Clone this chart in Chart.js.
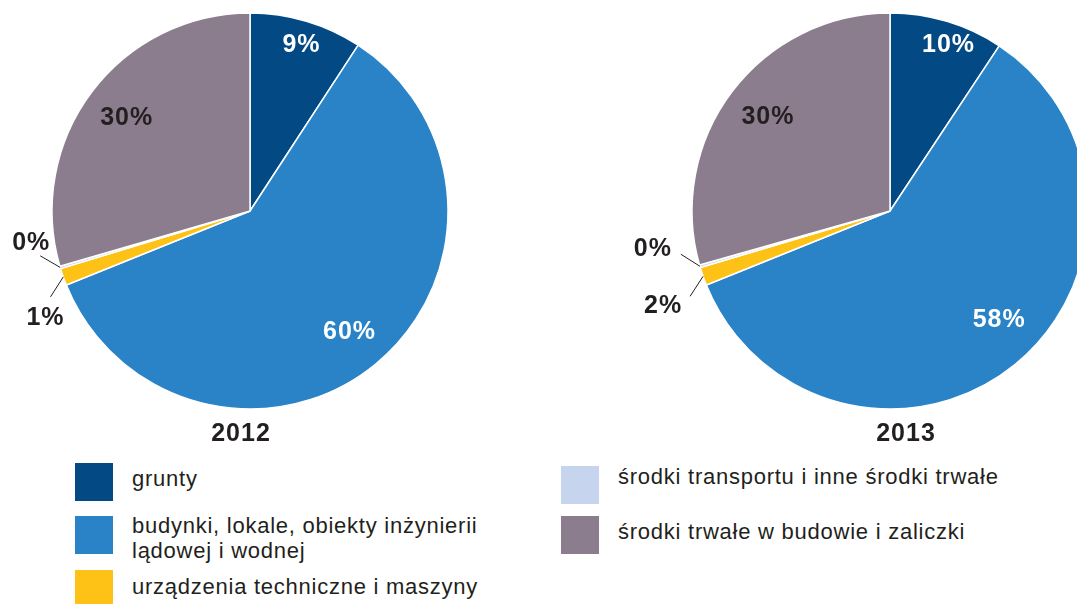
<!DOCTYPE html>
<html><head><meta charset="utf-8">
<script src="https://cdn.jsdelivr.net/npm/chart.js@4.4.1/dist/chart.umd.min.js"></script>
<style>
html,body{margin:0;padding:0;background:#fff;overflow:hidden;width:1077px;height:604px;position:relative;font-family:"Liberation Sans",Arial,sans-serif;color:#231f20}
.cv{position:absolute;top:-9px;height:440px}
.yr{position:absolute;top:417px;font-weight:bold;font-size:25px;line-height:30px;width:120px;text-align:center;letter-spacing:1px}
.sq{position:absolute;width:38px;height:38px}
.lt{position:absolute;font-size:22px;line-height:24px;white-space:nowrap;letter-spacing:0.75px}
</style></head><body>
<div class="cv" style="left:0px;width:500px"><canvas id="c1" width="500" height="440"></canvas></div>
<div class="cv" style="left:600px;width:580px"><canvas id="c2" width="580" height="440"></canvas></div>
<div class="yr" style="left:181px">2012</div>
<div class="yr" style="left:846px">2013</div>
<div id="legend"></div>
<script>
const categories = ['grunty','budynki, lokale, obiekty inżynierii lądowej i wodnej','urządzenia techniczne i maszyny','środki transportu i inne środki trwałe','środki trwałe w budowie i zaliczki'];
const values2012 = [9.2, 59.7, 1.4, 0.2, 29.5];
const values2013 = [9.3, 59.6, 1.5, 0.2, 29.4];
const labels2012 = ['9%','60%','1%','0%','30%'];
const labels2013 = ['10%','58%','2%','0%','30%'];
const years = ['2012','2013'];
const colors = ['#034a84','#2a83c6','#fdc215','#c6d4ee','#8b7d8e'];

const labelPlugin = {
  id:'sliceLabels',
  afterDatasetsDraw(chart, args, opts){
    const ctx = chart.ctx;
    const meta = chart.getDatasetMeta(0);
    const texts = opts.texts;
    ctx.save();
    ctx.font = 'bold 25px "Liberation Sans", Arial, sans-serif';
    try{ ctx.letterSpacing='1px'; }catch(e){}
    ctx.textAlign='center'; ctx.textBaseline='middle';
    meta.data.forEach((arc,i)=>{
      const p = arc.getProps(['x','y','startAngle','endAngle','outerRadius'],true);
      const mid = (p.startAngle+p.endAngle)/2;
      const cfg = opts.place[i];
      if(cfg.inside){
        const r = p.outerRadius*cfg.f;
        const x = p.x+Math.cos(mid)*r+cfg.nx, y = p.y+Math.sin(mid)*r+cfg.ny;
        ctx.fillStyle = (i===4) ? '#231f20' : '#ffffff';
        ctx.fillText(texts[i],x,y);
      } else {
        const ax = p.x+Math.cos(mid)*p.outerRadius, ay = p.y+Math.sin(mid)*p.outerRadius;
        ctx.strokeStyle='#231f20'; ctx.lineWidth=1;
        ctx.beginPath(); ctx.moveTo(ax,ay); ctx.lineTo(ax+cfg.lx,ay+cfg.ly); ctx.stroke();
        ctx.fillStyle='#231f20';
        ctx.fillText(texts[i],ax+cfg.tx,ay+cfg.ty);
      }
    });
    ctx.restore();
  }
};

function makePie(id, vals, texts, place){
  new Chart(document.getElementById(id),{
    type:'pie',
    data:{labels:categories,datasets:[{data:vals,backgroundColor:colors,borderColor:'#ffffff',borderWidth:1.5,borderAlign:'center'}]},
    options:{responsive:false,animation:false,radius:198,
      layout:{padding:0},
      plugins:{legend:{display:false},tooltip:{enabled:false},sliceLabels:{texts,place}}},
    plugins:[labelPlugin]
  });
}
makePie('c1', values2012, labels2012, [
  {inside:true,f:0.877,nx:2,ny:1},
  {inside:true,f:0.792,nx:0,ny:0},
  {inside:false,lx:-12.8,ly:20,tx:-17.8,ty:41},
  {inside:false,lx:-20,ly:-11.6,tx:-29,ty:-24.6},
  {inside:true,f:0.779,nx:0,ny:0}
]);
makePie('c2', values2013, labels2013, [
  {inside:true,f:0.877,nx:8.5,ny:0},
  {inside:true,f:0.792,nx:10,ny:-12},
  {inside:false,lx:-13,ly:20,tx:-40,ty:30},
  {inside:false,lx:-19,ly:-12,tx:-47,ty:-17},
  {inside:true,f:0.779,nx:1,ny:-1}
]);

// legend
const legendPos = [
  {sx:75,sy:463,tx:132,ty:467,text:categories[0]},
  {sx:75,sy:516,tx:132,ty:513,text:'budynki, lokale, obiekty inżynierii<br>lądowej i wodnej'},
  {sx:75,sy:570,tx:132,ty:575,text:categories[2]},
  {sx:561,sy:466,tx:618,ty:465,text:categories[3]},
  {sx:561,sy:516,tx:618,ty:520,text:categories[4]}
];
const lg = document.getElementById('legend');
legendPos.forEach((l,i)=>{
  const s=document.createElement('div'); s.className='sq';
  s.style.left=l.sx+'px'; s.style.top=l.sy+'px'; s.style.background=colors[i]; lg.appendChild(s);
  const t=document.createElement('div'); t.className='lt';
  t.style.left=l.tx+'px'; t.style.top=l.ty+'px'; t.innerHTML=l.text;
  if(i===1) t.style.lineHeight='25px';
  lg.appendChild(t);
});
</script>
</body></html>
